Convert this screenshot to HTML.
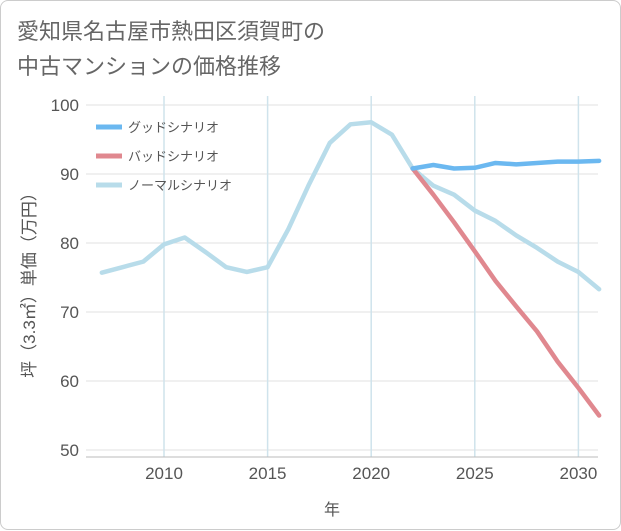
<!DOCTYPE html>
<html><head><meta charset="utf-8"><style>
body{margin:0;background:#fff;font-family:"Liberation Sans","Noto Sans CJK JP",sans-serif;}
#wrap{position:relative;width:619px;height:528px;border:1px solid #ccc;border-radius:8px;background:#fff;}
#title{position:absolute;left:16px;top:13px;font-size:22px;line-height:35px;color:#666;}
svg{position:absolute;left:0;top:0;}
</style></head><body>
<div id="wrap">
<div id="title">愛知県名古屋市熱田区須賀町の<br>中古マンションの価格推移</div>
<svg id="chart" width="621" height="530"></svg>
</div>
<script>
const years=[2007,2008,2009,2010,2011,2012,2013,2014,2015,2016,2017,2018,2019,2020,2021,2022,2023,2024,2025,2026,2027,2028,2029,2030,2031];
const normalVals=[75.7,76.5,77.3,79.8,80.8,78.7,76.5,75.8,76.5,82,88.5,94.5,97.2,97.5,95.7,90.8,88.3,87,84.7,83.2,81.1,79.3,77.3,75.8,73.3];
const futureYears=[2022,2023,2024,2025,2026,2027,2028,2029,2030,2031];
const goodVals=[90.8,91.3,90.8,90.9,91.6,91.4,91.6,91.8,91.8,91.9];
const badVals=[90.8,87,83,78.8,74.5,70.8,67.2,62.8,59,55];
const xTicks=[2010,2015,2020,2025,2030];
const yTicks=[50,60,70,80,90,100];
const legendLabels=["グッドシナリオ","バッドシナリオ","ノーマルシナリオ"];
const legendColors=["#6bb8f0","#e0888f","#b8dcea"];

const NS="http://www.w3.org/2000/svg";
const svg=document.getElementById('chart');
const L=85,R=597,T=95,B=456;
const x=v=>163+(v-2010)*20.72;
const y=v=>104+(100-v)*6.9;
function mk(t,a){const e=document.createElementNS(NS,t);for(const k in a)e.setAttribute(k,a[k]);svg.appendChild(e);return e;}

for(const t of yTicks){
 const l=mk('line',{x1:L,x2:R,y1:y(t),y2:y(t),stroke:'#e2e2e2','stroke-width':1});
 
 
 const tx=mk('text',{x:78,y:y(t)+6,'text-anchor':'end','font-size':17,fill:'#555'});
 tx.textContent=t;
 
 
}
for(const t of xTicks){
 const l=mk('line',{x1:x(t),x2:x(t),y1:T,y2:B,stroke:'#cfe3ec','stroke-width':1.5});
 
 
 const tx=mk('text',{x:x(t),y:478,'text-anchor':'middle','font-size':17,fill:'#555'});
 tx.textContent=t;
 
 
}
const ax=mk('line',{x1:L,x2:R,y1:B,y2:B,stroke:'#bbb','stroke-width':1});



function series(xs,vs,c,name){
 const p=mk('polyline',{points:xs.map((v,i)=>x(v)+','+y(vs[i])).join(' '),fill:'none',stroke:c,'stroke-width':4.5,'stroke-linejoin':'round','stroke-linecap':'round'});
 
 
}
series(years,normalVals,legendColors[2],'normal-scenario-line');
series(futureYears,badVals,legendColors[1],'bad-scenario-line');
series(futureYears,goodVals,legendColors[0],'good-scenario-line');

legendLabels.forEach((lab,i)=>{
 const yy=126+i*29;
 const l=mk('line',{x1:95,x2:121,y1:yy,y2:yy,stroke:legendColors[i],'stroke-width':5});
 
 
 const t=mk('text',{x:127,y:yy+5,'font-size':13,fill:'#555'});
 t.textContent=lab;
 
 
});

const xt=mk('text',{x:331,y:514,'text-anchor':'middle','font-size':16,fill:'#555'});
xt.textContent='年';


const yt=mk('text',{x:0,y:0,'text-anchor':'middle','font-size':17,fill:'#555',transform:'translate(34,280) rotate(-90)'});
yt.textContent='坪（3.3㎡）単価（万円）';


</script>
</body></html>
